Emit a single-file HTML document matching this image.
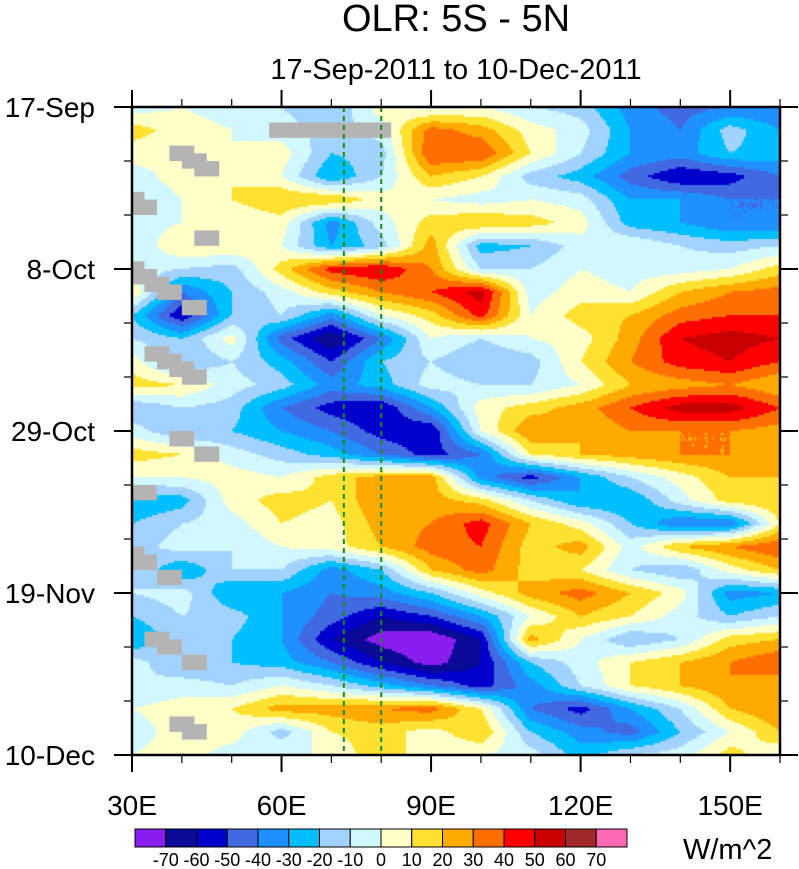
<!DOCTYPE html>
<html><head><meta charset="utf-8"><style>
body{margin:0;background:#fff;width:799px;height:869px;overflow:hidden;font-family:"Liberation Sans",sans-serif}
#wrap{position:relative;width:799px;height:869px}
canvas{position:absolute;left:0;top:0}
svg{position:absolute;left:0;top:0}
</style></head><body>
<div id="wrap">
<canvas id="cv" width="799" height="869"></canvas>
<svg id="sv" width="799" height="869"></svg>
</div>
<script>
const lons=[30,40,50,60,70,80,90,100,110,120,130,140,150,160];
const days=[0,3,6,9,12,15,18,21,24,27,30,33,36,39,42,45,48,51,54,57,60,63,66,69,72,75,78,81,84];
const olr=[
[-5,0,-5,-10,-20,5,-5,0,-10,-15,-35,-45,-40,-40],
[15,5,0,-5,-15,-5,35,25,5,-5,-30,-40,-15,-30],
[5,0,0,5,-20,-15,40,40,10,-10,-30,-35,-20,-25],
[-5,5,10,0,-30,-10,20,10,-15,-25,-45,-60,-55,-40],
[-10,0,10,20,20,5,0,-5,0,-5,-30,-30,-40,-40],
[-5,0,0,5,-35,-5,15,20,15,5,-25,-30,-40,-40],
[-10,10,10,0,-30,-15,25,-25,-20,-5,0,-10,-15,-10],
[-5,-10,-15,15,45,50,30,-10,-10,0,-5,-5,0,15],
[10,-40,-20,-5,15,30,40,55,-5,5,0,20,30,35],
[-20,-60,-20,-10,-35,0,15,45,0,15,20,35,40,40],
[-10,-20,5,-45,-70,-40,0,-10,0,5,25,50,55,50],
[5,-20,-10,-25,-50,-20,-10,-20,-15,10,30,45,50,40],
[15,10,-5,-15,-35,-25,-5,-10,-10,0,20,25,30,20],
[-20,-10,-15,-40,-55,-60,-30,5,15,25,40,55,55,40],
[-5,-20,-20,-30,-40,-55,-60,0,30,20,30,30,30,25],
[15,10,-5,-15,-25,-40,-55,-40,10,20,25,30,30,25],
[0,0,5,0,15,25,25,-35,-55,-30,-10,5,20,20],
[-30,-25,5,15,10,30,25,15,-10,-30,-30,-5,15,20],
[-20,-10,-5,10,5,25,30,45,20,5,-20,-40,-40,10],
[-15,-5,-10,0,5,20,35,40,15,25,-5,20,30,40],
[-10,-30,-10,-10,-35,-20,20,35,15,10,-10,-20,5,20],
[-10,-5,-30,-30,-40,-35,-20,5,25,35,20,5,-35,-30],
[-20,-10,-15,-30,-45,-60,-50,-30,0,20,10,-5,-20,-10],
[-30,-15,-20,-30,-60,-75,-80,-60,25,0,-20,-10,15,20],
[-5,-20,-20,-25,-40,-60,-75,-60,-20,-5,10,20,30,40],
[-10,-5,-10,0,-10,-25,-40,-55,-35,-10,10,20,30,20],
[0,5,10,25,25,30,35,10,-40,-55,-30,-10,20,30],
[-5,5,5,-15,10,15,5,20,-20,-35,-45,-20,0,20],
[0,5,-5,0,0,20,0,0,-5,-25,-10,-5,15,0]];
const levels=[-70,-60,-50,-40,-30,-20,-10,0,10,20,30,40,50,60,70];
const levelLabels=["-70","-60","-50","-40","-30","-20","-10","0","10","20","30","40","50","60","70"];
const colors=["#8a1ef0","#0a0a96","#0000cd","#4169e1","#1e90ff","#00bfff","#a2d2ff","#d2f8ff","#ffffc8","#ffe132","#ffaa00","#ff6e00","#ff0000","#c80000","#a02828","#ff69b4"];
const xTickVals=[30,40,50,60,70,80,90,100,110,120,130,140,150,160];
const xLabelVals=[30,60,90,120,150];
const xLabels=["30E","60E","90E","120E","150E"];
const yTickVals=[0,7,14,21,28,35,42,49,56,63,70,77,84];
const yLabelVals=[0,21,42,63,84];
const yLabels=["17-Sep","8-Oct","29-Oct","19-Nov","10-Dec"];
const refLons=[72.5,80];
const missing=[[57.5,2,82,4],[37.5,5,42.5,7],[40,6,45,8],[42.5,7,47.5,9],[30,11,32.5,12.3],[30,12,35,14],[42.5,16,47.5,18],[30,20,32.5,21],[30,21,35,23],[32.5,22,37.5,24],[35,23,40,25],[40,25,45,27],[32.5,31,37.5,33],[35,32,40,34],[37.5,33,42.5,35],[40,34,45,36],[37.5,42,42.5,44],[42.5,44,47.5,46],[30,49,35,51],[30,57,32.5,58],[30,58,35,60],[35,60,40,62],[32.5,68,37.5,70],[35,69,40,71],[40,71,45,73],[37.5,79,42.5,81],[40,80,45,82]];

const X0=132,X1=780,Y0=107,Y1=755;
const xs=l=>X0+(l-30)/(160-30)*(X1-X0);
const ys=d=>Y0+d/84*(Y1-Y0);
function colorFor(v){let i=0;while(i<levels.length&&v>=levels[i])i++;return colors[i];}
function sample(lon,day){
  let ci=Math.min(lons.length-2,Math.max(0,Math.floor((lon-lons[0])/(lons[1]-lons[0]))));
  let ri=Math.min(days.length-2,Math.max(0,Math.floor((day-days[0])/(days[1]-days[0]))));
  let fx=(lon-lons[ci])/(lons[ci+1]-lons[ci]),fy=(day-days[ri])/(days[ri+1]-days[ri]);
  const a=olr[ri][ci],b=olr[ri][ci+1],c=olr[ri+1][ci],d=olr[ri+1][ci+1];
  return a*(1-fx)*(1-fy)+b*fx*(1-fy)+c*(1-fx)*fy+d*fx*fy;
}
const ctx=document.getElementById('cv').getContext('2d');
const S=2;
for(let py=Y0;py<Y1;py+=S){for(let px=X0;px<X1;px+=S){
  const lon=30+(px+S/2-X0)/(X1-X0)*130,day=(py+S/2-Y0)/(Y1-Y0)*84;
  ctx.fillStyle=colorFor(sample(lon,day));ctx.fillRect(px,py,S,S);}}
const NS="http://www.w3.org/2000/svg";
const sv=document.getElementById('sv');
function mk(t,at,txt){const e=document.createElementNS(NS,t);for(const k in at)e.setAttribute(k,at[k]);if(txt!==undefined)e.textContent=txt;sv.appendChild(e);return e;}
missing.forEach(m=>{const r=mk('rect',{x:xs(m[0]),y:ys(m[1]),width:xs(m[2])-xs(m[0]),height:ys(m[3])-ys(m[1]),fill:'#b4b4b4'});

});
refLons.forEach(l=>{const e=mk('line',{x1:xs(l),x2:xs(l),y1:Y0,y2:Y1,stroke:'#1a8a1a','stroke-width':2,'stroke-dasharray':'5,4'});

});
const fr=mk('rect',{x:X0,y:Y0,width:X1-X0,height:Y1-Y0,fill:'none',stroke:'#000','stroke-width':2.5});


xTickVals.forEach(v=>{const maj=xLabelVals.includes(v);const L=maj?17:8;
const t1=mk('line',{x1:xs(v),x2:xs(v),y1:Y1,y2:Y1+L,stroke:'#000','stroke-width':maj?2:1.2});


const t2=mk('line',{x1:xs(v),x2:xs(v),y1:Y0,y2:Y0-L,stroke:'#000','stroke-width':maj?2:1.2});

});
xLabelVals.forEach((v,i)=>{const e=mk('text',{x:xs(v),y:815,'text-anchor':'middle','font-size':28,fill:'#000'},xLabels[i]);

});
yTickVals.forEach(v=>{const maj=yLabelVals.includes(v);const L=maj?18:8;
const t1=mk('line',{x1:X0-L,x2:X0,y1:ys(v),y2:ys(v),stroke:'#000','stroke-width':maj?2:1.2});


const t2=mk('line',{x1:X1,x2:X1+L,y1:ys(v),y2:ys(v),stroke:'#000','stroke-width':maj?2:1.2});

});
yLabelVals.forEach((v,i)=>{const e=mk('text',{x:95,y:ys(v)+10,'text-anchor':'end','font-size':28,fill:'#000'},yLabels[i]);

});
const tt=mk('text',{x:456,y:31,'text-anchor':'middle','font-size':38,fill:'#000'},'OLR: 5S - 5N');


const st=mk('text',{x:456,y:79,'text-anchor':'middle','font-size':29,fill:'#000'},'17-Sep-2011 to 10-Dec-2011');


const CB0=135,CBW=30.75,CBY=829,CBH=18;
colors.forEach((c,i)=>{const r=mk('rect',{x:CB0+i*CBW,y:CBY,width:CBW,height:CBH,fill:c,stroke:'#000','stroke-width':1});

});
levelLabels.forEach((s,i)=>{const e=mk('text',{x:CB0+(i+1)*CBW,y:866,'text-anchor':'middle','font-size':18,fill:'#000'},s);

});
const un=mk('text',{x:683,y:859,'font-size':29,fill:'#000'},'W/m^2');


</script>
</body></html>
